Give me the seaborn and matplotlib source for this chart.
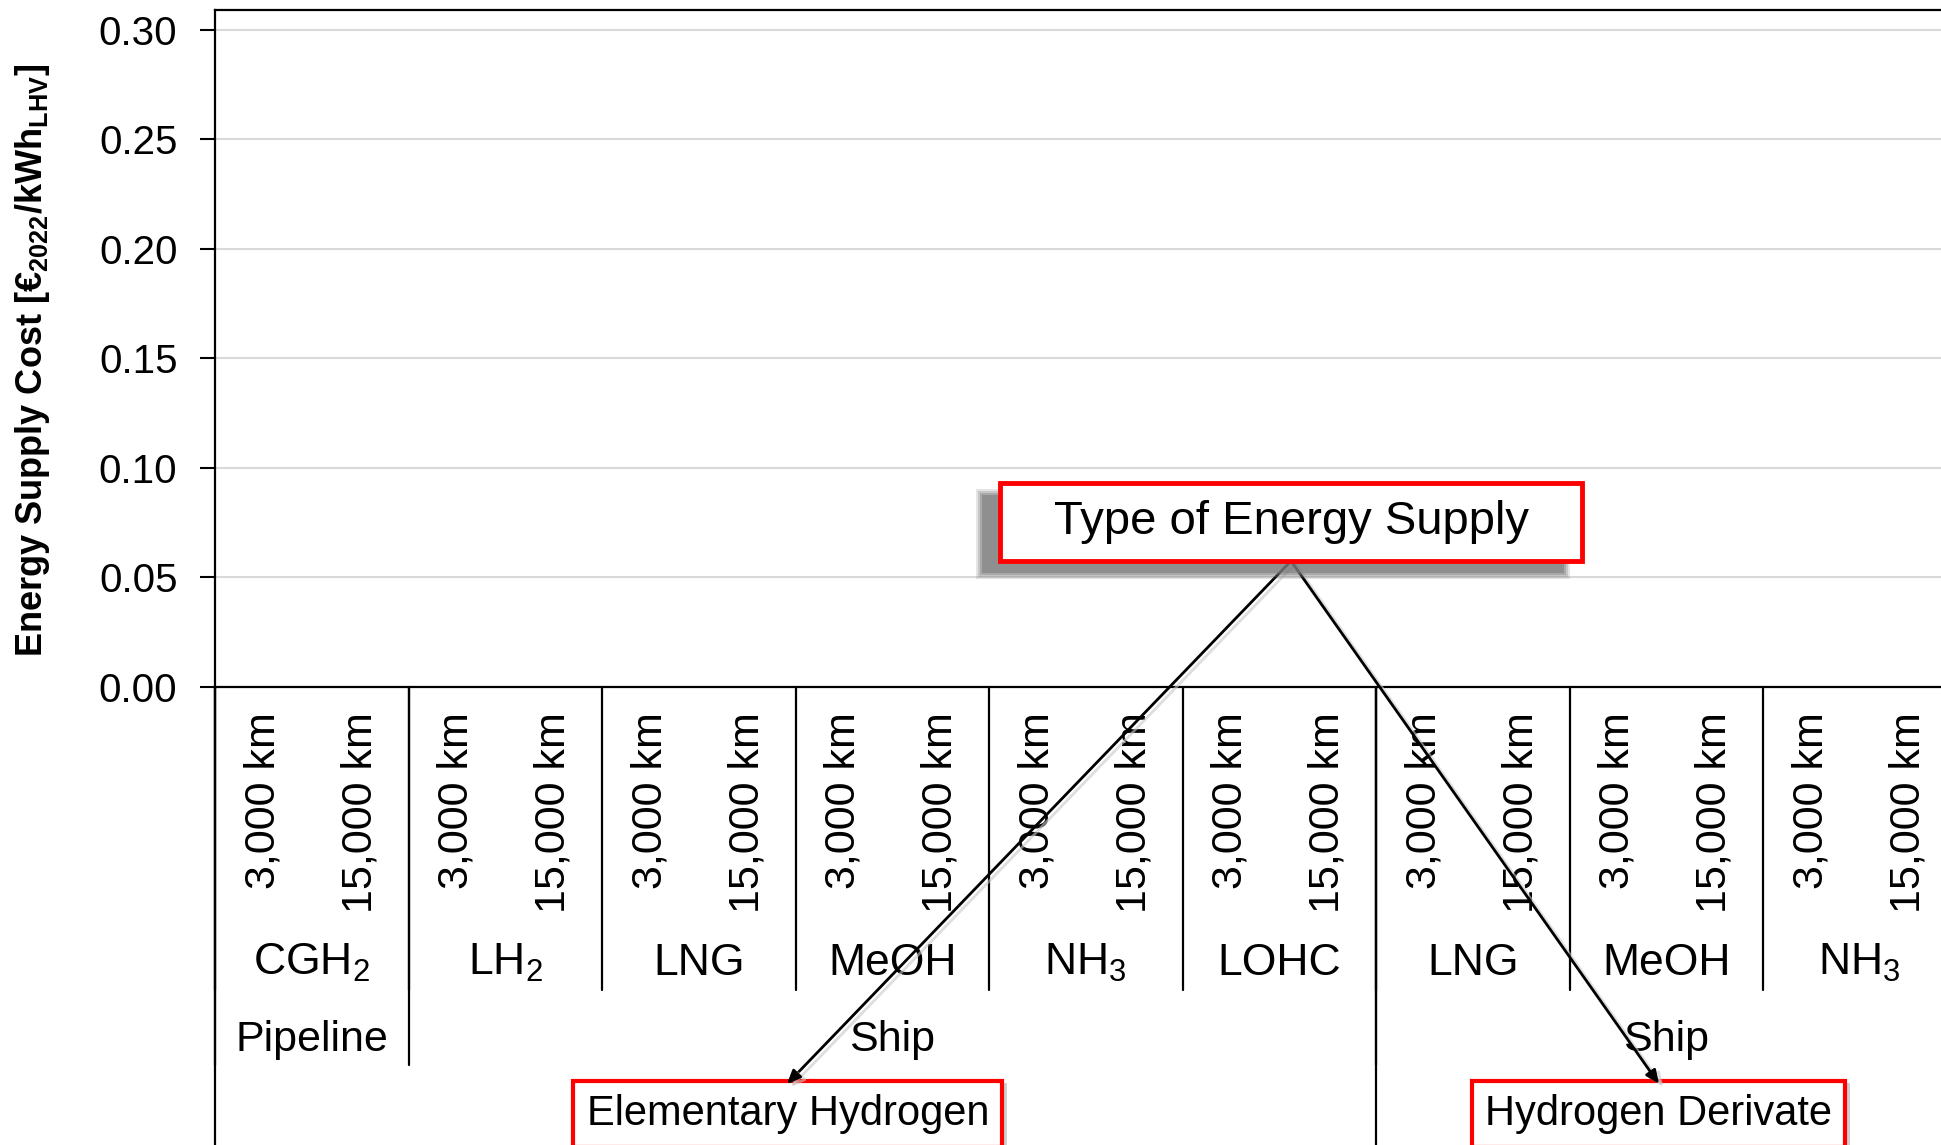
import numpy as np
import pandas as pd
import matplotlib
matplotlib.use('Agg')
import matplotlib.pyplot as plt
import matplotlib.patheffects as pe
from matplotlib.patches import Rectangle
import seaborn as sns

# categories (three grouping levels below the distance ticks)
distances = ['3,000 km', '15,000 km']
fuels = ['CGH$_2$', 'LH$_2$', 'LNG', 'MeOH', 'NH$_3$', 'LOHC', 'LNG', 'MeOH', 'NH$_3$']
modes = ['Pipeline', 'Ship', 'Ship']
mode_counts = [1, 5, 3]
supply_types = ['Elementary Hydrogen', 'Hydrogen Derivate']
supply_counts = [6, 3]

# supply cost values (chart is empty template -> all zero)
cost = [0.00, 0.00, 0.00, 0.00, 0.00, 0.00, 0.00, 0.00, 0.00,
        0.00, 0.00, 0.00, 0.00, 0.00, 0.00, 0.00, 0.00, 0.00]

y_ticks = [0.00, 0.05, 0.10, 0.15, 0.20, 0.25, 0.30]

sns.set_style('white')
plt.rcParams['font.family'] = ['Liberation Sans', 'DejaVu Sans']
plt.rcParams['mathtext.fontset'] = 'custom'
plt.rcParams['mathtext.rm'] = 'Liberation Sans'
plt.rcParams['mathtext.bf'] = 'Liberation Sans:bold'
plt.rcParams['mathtext.default'] = 'regular'
for k in ['text.color', 'axes.labelcolor', 'xtick.color', 'ytick.color']:
    plt.rcParams[k] = 'black'

W, H = 1941, 1145
fig = plt.figure(figsize=(W / 100, H / 100), dpi=100)
ax = fig.add_axes([215 / W, 1 - 687 / H, 18 * 96.75 / W, 677 / H])

keys = [f'{f}|{d}|{i}' for i, f in enumerate(fuels) for d in distances]
df = pd.DataFrame({'key': keys, 'cost': cost})
sns.barplot(data=df, x='key', y='cost', order=keys, color='#4472c4',
            linewidth=0, ax=ax, errorbar=None)

ax.set_xlim(-0.5, len(keys) - 0.5)
ax.set_ylim(0, 0.309)
ax.set_yticks(y_ticks)
ax.set_yticklabels([f'{v:.2f}' for v in y_ticks], fontsize=29)
ax.set_xticks(range(len(keys)))
ax.set_xticklabels(distances * len(fuels), rotation=90, va='top', ha='center',
                   fontsize=31)
ax.tick_params(axis='x', length=0, pad=18)
ax.tick_params(axis='y', length=11, width=1.5, pad=16, direction='out', left=True)
ax.set_xlabel('')
ax.set_ylabel(r'Energy Supply Cost [€$_{2022}$/kWh$_{LHV}$]', fontsize=26,
              fontweight='bold')
ax.yaxis.set_label_coords(-0.0935, 0.483)

ax.grid(axis='y', color='#d9d9d9', linewidth=1.5)
ax.set_axisbelow(True)
for s in ['left', 'bottom', 'top']:
    ax.spines[s].set_color('black')
    ax.spines[s].set_linewidth(1.6)
ax.spines['right'].set_visible(False)

tr = ax.get_xaxis_transform()
y_fuel_line, y_mode_line, y_bottom = -0.4476, -0.558, -0.70

# fuel separators and labels
for i, f in enumerate(fuels):
    x0 = 2 * i - 0.5
    ax.plot([x0, x0], [0, y_fuel_line], color='black', lw=1.6, transform=tr, clip_on=False)
    ax.text(2 * i + 0.5, -0.4077, f, transform=tr, ha='center', va='center', fontsize=32)

# transport mode separators and labels
start = 0
for m, c in zip(modes, mode_counts):
    x0 = 2 * start - 0.5
    ax.plot([x0, x0], [0, y_mode_line], color='black', lw=1.6, transform=tr, clip_on=False)
    ax.text(2 * start + c - 0.5, -0.5214, m, transform=tr, ha='center', va='center', fontsize=31)
    start += c

# supply type separators and boxed labels
start = 0
for s, c in zip(supply_types, supply_counts):
    x0 = 2 * start - 0.5
    ax.plot([x0, x0], [0, y_bottom], color='black', lw=1.6, transform=tr, clip_on=False)
    t = ax.text(2 * start + c - 0.5 - 0.08, -0.6307, s, transform=tr, ha='center', va='center',
                fontsize=30, zorder=5,
                bbox=dict(boxstyle='square,pad=0.32', facecolor='white', edgecolor='red', lw=3))
    t.get_bbox_patch().set_path_effects([
        pe.SimplePatchShadow(offset=(3, -2), shadow_rgbFace='#b0b0b0', alpha=0.6), pe.Normal()])
    start += c
x_end = 2 * start - 0.5
ax.plot([x_end, x_end], [0, y_bottom], color='black', lw=1.6, transform=tr, clip_on=False)

# annotation box with soft shadow
def px_rect(x0, y0, x1, y1, **kw):
    return Rectangle((x0 / W, 1 - y1 / H), (x1 - x0) / W, (y1 - y0) / H,
                     transform=fig.transFigure, **kw)

bx0, by0, bx1, by1 = 1000, 483, 1582, 561
for k, a in enumerate([0.2, 0.28, 0.38, 0.55]):
    g = 6 - 2 * k
    fig.add_artist(px_rect(bx0 - 18 - g, by0 + 12 - g, bx1 - 18 + g, by1 + 12 + g,
                           facecolor='#7a7a7a', edgecolor='none', alpha=a, zorder=5))
fig.add_artist(px_rect(bx0, by0, bx1, by1, facecolor='white', edgecolor='red', lw=3.5, zorder=6))
fig.text((bx0 + bx1) / 2 / W, 1 - (by0 + by1) / 2 / H, 'Type of Energy Supply',
         ha='center', va='center', fontsize=34, zorder=7)

start_pt = (1291 / W, 1 - 561 / H)
for tx in [787, 1659]:
    ax.annotate('', xy=(tx / W, 1 - 1084 / H), xycoords='figure fraction',
                xytext=start_pt, textcoords='figure fraction',
                arrowprops=dict(arrowstyle='-|>,head_length=0.8,head_width=0.35', color='black',
                                lw=2, shrinkA=0, shrinkB=0,
                                path_effects=[pe.SimpleLineShadow(offset=(3, -2), shadow_color='#c8c8c8',
                                                                  alpha=0.6), pe.Normal()]),
                annotation_clip=False, zorder=7)

fig.savefig('out.png', dpi=100)
